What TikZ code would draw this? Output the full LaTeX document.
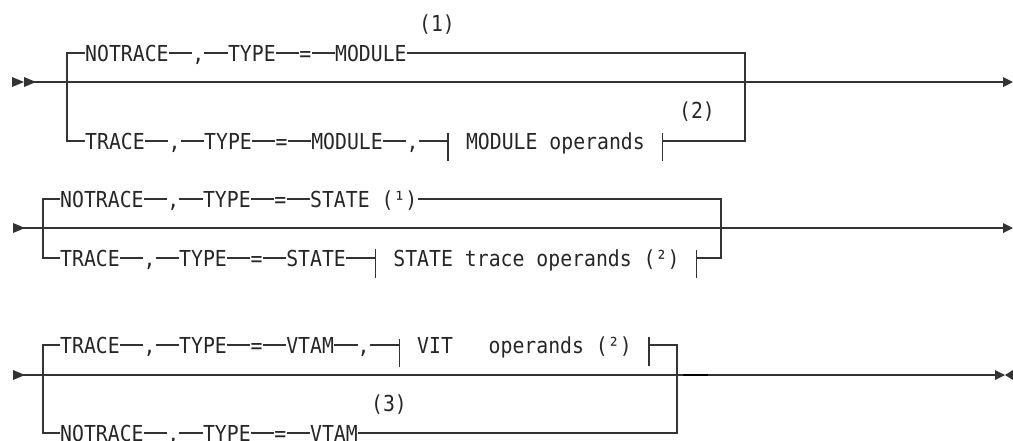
\documentclass[tikz,border=0pt]{standalone}
\usepackage{fontspec}
\usetikzlibrary{calc}
\newfontfamily\tokfont{DejaVu Sans Mono}[FakeStretch=0.9]
\definecolor{lc}{HTML}{333333}
\definecolor{tc}{HTML}{262626}
\def\cw{11.9}
\begin{document}
\begin{tikzpicture}[x=1pt,y=-1pt,
  ln/.style={draw=lc, line width=1.2pt},
  tok/.style={font=\tokfont\fontsize{22}{24}\selectfont, text=tc, inner sep=0pt,
    text height=16pt, text depth=0pt, anchor=west},
  note/.style={font=\tokfont\fontsize{22}{24}\selectfont, text=tc, inner sep=0pt},
  tip/.style={fill=lc, draw=none}]
\useasboundingbox (0,0) rectangle (1013,440);

% ---------------- Row 1 ----------------
\coordinate (s1) at (24,82);
\coordinate (e1) at (1004,82);
\coordinate (l1t) at (67,53);
\coordinate (l1b) at (67,141);
\coordinate (r1t) at (745,53);
\coordinate (r1b) at (745,141);
\node[tok] (a1) at (85,53) {NOTRACE};
\node[tok] (a2) at ({85+9*\cw},53) {,};
\node[tok] (a3) at ({85+12*\cw},53) {TYPE};
\node[tok] (a4) at ({85+18*\cw},53) {=};
\node[tok] (a5) at ({85+21*\cw},53) {MODULE};
\node[note] (n1) at (437,25) {(1)};
\node[tok] (b1) at (85,141) {TRACE};
\node[tok] (b2) at ({85+7*\cw},141) {,};
\node[tok] (b3) at ({85+10*\cw},141) {TYPE};
\node[tok] (b4) at ({85+16*\cw},141) {=};
\node[tok] (b5) at ({85+19*\cw},141) {MODULE};
\node[tok] (b6) at ({85+27*\cw},141) {,};
\coordinate (f1a) at ({85+30.5*\cw},141);
\node[tok] (f1) at ({85+32*\cw},141) {MODULE operands};
\coordinate (f1b) at ({85+48.5*\cw},141);
\node[note] (n2) at (697,112) {(2)};

\draw[ln] (s1) -- (e1);
\fill[tip] (12,77) -- (24,82) -- (12,87) -- cycle;
\fill[tip] (24,77) -- (36,82) -- (24,87) -- cycle;
\fill[tip] (1003,77) -- (1013,82) -- (1003,87) -- cycle;
\draw[ln] (a1) -- (l1t) -- (l1b) -- (b1);
\draw[ln] (a1) -- (a2) -- (a3) -- (a4) -- (a5) -- (r1t) -- (r1b) -- (f1b);
\draw[ln] (b1) -- (b2) -- (b3) -- (b4) -- (b5) -- (b6) -- (f1a);
\draw[ln] ($(f1a)+(0,-8)$) -- ($(f1a)+(0,20)$);
\draw[ln] ($(f1b)+(0,-8)$) -- ($(f1b)+(0,20)$);

% ---------------- Row 2 ----------------
\coordinate (s2) at (13,228);
\coordinate (e2) at (1004,228);
\coordinate (l2t) at (43,199);
\coordinate (l2b) at (43,258);
\coordinate (r2t) at (721,199);
\coordinate (r2b) at (721,258);
\node[tok] (c1) at (60,199) {NOTRACE};
\node[tok] (c2) at ({60+9*\cw},199) {,};
\node[tok] (c3) at ({60+12*\cw},199) {TYPE};
\node[tok] (c4) at ({60+18*\cw},199) {=};
\node[tok] (c5) at ({60+21*\cw},199) {STATE (¹)};
\node[tok] (d1) at (60,258) {TRACE};
\node[tok] (d2) at ({60+7*\cw},258) {,};
\node[tok] (d3) at ({60+10*\cw},258) {TYPE};
\node[tok] (d4) at ({60+16*\cw},258) {=};
\node[tok] (d5) at ({60+19*\cw},258) {STATE};
\coordinate (f2a) at ({60+26.5*\cw},258);
\node[tok] (f2) at ({60+28*\cw},258) {STATE trace operands (²)};
\coordinate (f2b) at ({60+53.5*\cw},258);

\draw[ln] (s2) -- (e2);
\fill[tip] (13,223) -- (25,228) -- (13,233) -- cycle;
\fill[tip] (1003,223) -- (1013,228) -- (1003,233) -- cycle;
\draw[ln] (c1) -- (l2t) -- (l2b) -- (d1);
\draw[ln] (c1) -- (c2) -- (c3) -- (c4) -- (c5) -- (r2t) -- (r2b) -- (f2b);
\draw[ln] (d1) -- (d2) -- (d3) -- (d4) -- (d5) -- (f2a);
\draw[ln] ($(f2a)+(0,-9)$) -- ($(f2a)+(0,20)$);
\draw[ln] ($(f2b)+(0,-8)$) -- ($(f2b)+(0,20)$);

% ---------------- Row 3 ----------------
\coordinate (s3) at (13,375);
\coordinate (e3) at (996,375);
\coordinate (l3t) at (43,345);
\coordinate (l3b) at (43,433);
\coordinate (r3t) at (677,345);
\coordinate (r3b) at (677,433);
\node[tok] (g1) at (60,345) {TRACE};
\node[tok] (g2) at ({60+7*\cw},345) {,};
\node[tok] (g3) at ({60+10*\cw},345) {TYPE};
\node[tok] (g4) at ({60+16*\cw},345) {=};
\node[tok] (g5) at ({60+19*\cw},345) {VTAM};
\node[tok] (g6) at ({60+25*\cw},345) {,};
\coordinate (f3a) at ({60+28.5*\cw},345);
\node[tok] (f3) at ({60+30*\cw},345) {VIT\ \ \ operands (²)};
\coordinate (f3b) at ({60+49.5*\cw},345);
\node[tok] (h1) at (60,433) {NOTRACE};
\node[tok] (h2) at ({60+9*\cw},433) {,};
\node[tok] (h3) at ({60+12*\cw},433) {TYPE};
\node[tok] (h4) at ({60+18*\cw},433) {=};
\node[tok] (h5) at ({60+21*\cw},433) {VTAM};
\node[note] (n3) at (389,405) {(3)};
\coordinate (k1) at (683,375);
\coordinate (k2) at (708,375);

\draw[ln] (s3) -- (e3);
\draw[draw=black, line width=2.4pt] (k1) -- (k2);
\fill[tip] (13,370) -- (25,375) -- (13,380) -- cycle;
\fill[tip] (995,370) -- (1005,375) -- (995,380) -- cycle;
\fill[tip] (1013,370) -- (1005,375) -- (1013,380) -- cycle;
\draw[ln] (g1) -- (l3t) -- (l3b) -- (h1);
\draw[ln] (g1) -- (g2) -- (g3) -- (g4) -- (g5) -- (g6) -- (f3a);
\draw[ln] (f3b) -- (r3t) -- (r3b) -- (h5);
\draw[ln] (h1) -- (h2) -- (h3) -- (h4) -- (h5);
\draw[ln] ($(f3a)+(0,-6)$) -- ($(f3a)+(0,22)$);
\draw[ln] ($(f3b)+(0,-8)$) -- ($(f3b)+(0,21)$);
\end{tikzpicture}
\end{document}
